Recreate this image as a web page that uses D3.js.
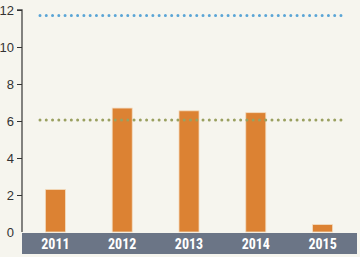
<!DOCTYPE html>
<html>
<head>
  <script src="https://d3js.org/d3.v7.min.js"></script>
  <style>
    body { margin: 0; background: #f6f5ee; }
    svg { display: block; font-family: "Liberation Sans Narrow", "Roboto Condensed", "Liberation Sans", sans-serif; }
  </style>
</head>
<body>
  <svg id="chart" width="360" height="257"></svg>
  <script>
    const years = ["2011", "2012", "2013", "2014", "2015"];
    const values = [2.3, 6.7, 6.55, 6.45, 0.4];
    const yTicks = [0, 2, 4, 6, 8, 10, 12];
    const blueLine = 11.7;
    const greenLine = 6.05;

    const svg = d3.select("#chart");
    const plotLeft = 22, plotRight = 356, plotTop = 10, plotBottom = 232;

    const x = d3.scaleBand().domain(years).range([plotLeft, plotRight]).paddingInner(0.7).paddingOuter(0.35);
    const y = d3.scaleLinear().domain([0, 12]).range([plotBottom, plotTop]);

    svg.append("rect").attr("width", 360).attr("height", 257).attr("fill", "#f6f5ee");

    // grey category strip
    svg.append("rect")
      .attr("x", plotLeft).attr("y", plotBottom + 1)
      .attr("width", plotRight - plotLeft + 1).attr("height", 21)
      .attr("fill", "#6b7586");

    // y axis
    const yAxis = svg.append("g")
      .attr("transform", `translate(${plotLeft},0)`)
      .call(d3.axisLeft(y).tickValues(yTicks).tickSize(5).tickPadding(3));
    yAxis.select(".domain").attr("stroke", "#444").attr("stroke-width", 1.3).attr("d", `M-5,${plotTop}H0V${plotBottom}`);
    yAxis.selectAll(".tick line").attr("stroke", "#333");
    yAxis.selectAll(".tick text").attr("fill", "#333").attr("font-size", 13);
    yAxis.selectAll(".tick").filter(d => d === 0).select("line").remove();

    // bars
    svg.selectAll(".bar")
      .data(values)
      .enter().append("rect")
      .attr("class", "bar")
      .attr("x", (d, i) => x(years[i]))
      .attr("y", d => y(d))
      .attr("width", x.bandwidth())
      .attr("height", d => y(0) - y(d))
      .attr("fill", "#dc8233")
      .attr("stroke", "#f3dcc0")
      .attr("stroke-width", 0.8);

    // reference dotted lines
    [[blueLine, "#5aa5d6"], [greenLine, "#9aa060"]].forEach(([v, c]) => {
      svg.append("line")
        .attr("x1", 40).attr("x2", 341)
        .attr("y1", y(v)).attr("y2", y(v))
        .attr("stroke", c)
        .attr("stroke-width", 3)
        .attr("stroke-linecap", "round")
        .attr("stroke-dasharray", "0 6.27");
    });

    // category labels
    svg.selectAll(".xl")
      .data(years)
      .enter().append("text")
      .attr("x", d => x(d) + x.bandwidth() / 2)
      .attr("y", plotBottom + 16.5)
      .attr("text-anchor", "middle")
      .attr("fill", "#fff")
      .attr("font-weight", "bold")
      .attr("font-size", 14)
      .text(d => d);
  </script>
</body>
</html>
